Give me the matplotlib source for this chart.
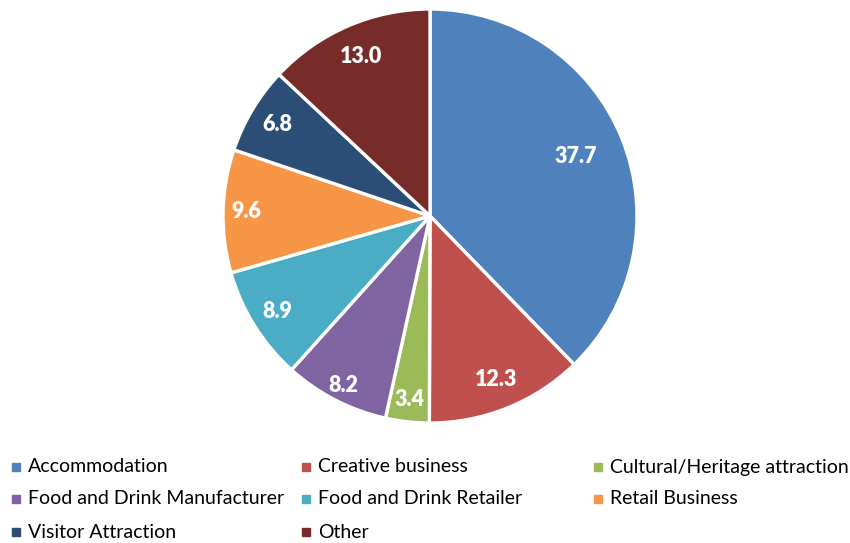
import numpy as np
import matplotlib
matplotlib.use("Agg")
import matplotlib.pyplot as plt
from matplotlib.patches import Rectangle

categories = [
    "Accommodation",
    "Creative business",
    "Cultural/Heritage attraction",
    "Food and Drink Manufacturer",
    "Food and Drink Retailer",
    "Retail Business",
    "Visitor Attraction",
    "Other",
]
shares = [37.7, 12.3, 3.4, 8.2, 8.9, 9.6, 6.8, 13.0]
colors = ["#4F81BD", "#C0504D", "#9BBB59", "#8064A2",
          "#4BACC6", "#F79646", "#2C4D75", "#772C2A"]

# radial position of each value label (fraction of the pie radius)
label_radius = [0.76, 0.85, 0.89, 0.92, 0.87, 0.89, 0.86, 0.84]

FONT = "Lato"
W, H = 850, 543
fig = plt.figure(figsize=(W / 100, H / 100), dpi=100)

cx, cy, r = 430, 216, 207
ax = fig.add_axes([(cx - r) / W, (H - cy - r) / H, 2 * r / W, 2 * r / H])
wedges, _ = ax.pie(shares, colors=colors, startangle=90, counterclock=False,
                   radius=1.0,
                   wedgeprops=dict(edgecolor="white", linewidth=2.4))
ax.set_xlim(-1, 1)
ax.set_ylim(-1, 1)
ax.set_aspect("equal")
ax.axis("off")

for w, v, lr in zip(wedges, shares, label_radius):
    mid = np.deg2rad((w.theta1 + w.theta2) / 2)
    ax.text(lr * np.cos(mid), lr * np.sin(mid), f"{v:.1f}",
            ha="center", va="center", color="white", fontsize=15.5,
            fontweight="heavy", family=FONT)

# legend laid out in three equal-width columns, filled row by row
col_x = [12, 302, 594]
row_y = [467, 499, 532]
sq = 8
for i, (name, c) in enumerate(zip(categories, colors)):
    row, col = divmod(i, 3)
    x, y = col_x[col], row_y[row]
    fig.patches.append(Rectangle((x / W, (H - y - sq / 2) / H), sq / W, sq / H,
                                 transform=fig.transFigure, color=c))
    fig.text((x + 16) / W, (H - y) / H, name, ha="left", va="center",
             fontsize=14, family=FONT, color="#000000")

fig.savefig("out.png", dpi=100)
